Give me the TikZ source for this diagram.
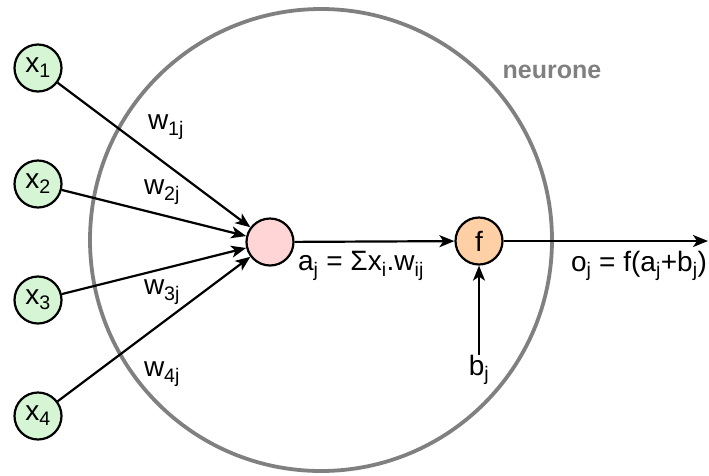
\documentclass[tikz,border=0pt]{standalone}
\usepackage{fontspec}
\setmainfont{Liberation Sans}
\usetikzlibrary{arrows.meta}

\definecolor{inputfill}{HTML}{D5F5D5}
\definecolor{sumfill}{HTML}{FFD5D5}
\definecolor{actfill}{HTML}{FFD0A5}
\definecolor{shellgray}{HTML}{808080}

\newcommand{\sbs}[1]{\textsubscript{#1}}

\tikzset{
  unit/.style={draw, circle, line width=2.2pt, minimum size=47pt, inner sep=0pt},
  inputnode/.style={unit, fill=inputfill},
  conn/.style={line width=2.2pt, -{Stealth[length=15pt,width=12pt,inset=4pt]}},
  txt/.style={font=\fontsize{28}{32}\selectfont, inner sep=0pt},
}

\begin{document}
\begin{tikzpicture}[x=1pt,y=-1pt]
		\useasboundingbox (0,0) rectangle (709,475);

		% Neuron shell
		\node[draw=shellgray, line width=3.8pt, circle, minimum size=462pt, inner sep=0pt] (shell) at (321,240) {};
		\node[txt, text=shellgray, font=\fontsize{25}{30}\selectfont\bfseries] (lbl) at (552,72) {neurone};

		% Inputs
		\node[inputnode, txt] (x1) at (38,68) {x\sbs{1}};
		\node[inputnode, txt] (x2) at (38,184) {x\sbs{2}};
		\node[inputnode, txt] (x3) at (38,300) {x\sbs{3}};
		\node[inputnode, txt] (x4) at (38,416) {x\sbs{4}};

		% Sum and activation
		\node[unit, fill=sumfill] (sum) at (270,242) {};
		\node[unit, fill=actfill, txt] (act) at (479,241) {f};

		% Weights
		\node[txt] (w1) at (166,127) {w\sbs{1j}};
		\node[txt] (w2) at (162,192) {w\sbs{2j}};
		\node[txt] (w3) at (162,292) {w\sbs{3j}};
		\node[txt] (w4) at (162,374) {w\sbs{4j}};

		% Other labels
		\node[txt] (aj) at (361,266) {a\sbs{j} = Σx\sbs{i}.w\sbs{ij}};
		\node[txt] (oj) at (639,266) {o\sbs{j} = f(a\sbs{j}+b\sbs{j})};
		\node[txt] (bj) at (479,370) {b\sbs{j}};
		\coordinate (out) at (708,241);

		% Edges
		\draw[conn] (x1) -- (sum);
		\draw[conn] (x2) -- (sum);
		\draw[conn] (x3) -- (sum);
		\draw[conn] (x4) -- (sum);
		\draw[conn] (sum) -- (act);
		\draw[conn] (act) -- (out);
		\draw[conn] (bj) -- (act);
	\end{tikzpicture}
\end{document}
